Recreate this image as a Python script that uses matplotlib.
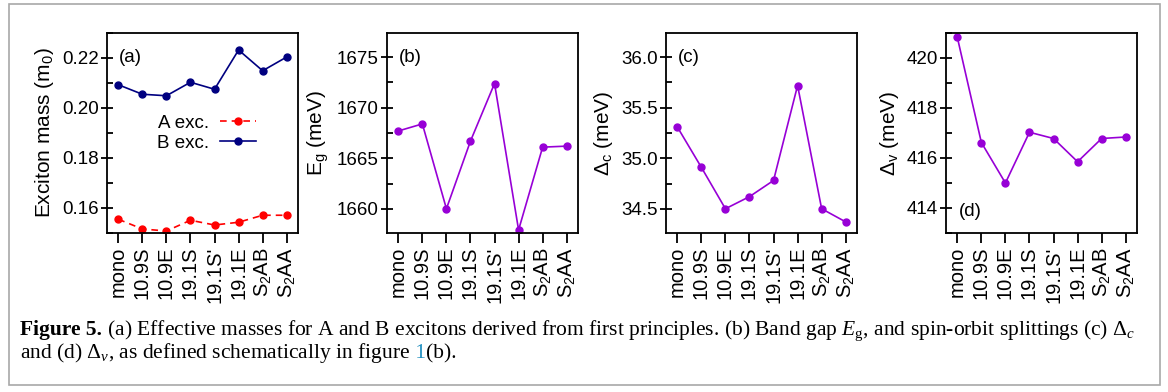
import numpy as np
import matplotlib
matplotlib.use("Agg")
import matplotlib.pyplot as plt
from matplotlib.patches import Rectangle
from matplotlib.ticker import MultipleLocator, FormatStrFormatter

plt.rcParams['font.family'] = ['Liberation Sans', 'DejaVu Sans']
plt.rcParams['mathtext.fontset'] = 'custom'
plt.rcParams['mathtext.rm'] = 'Liberation Serif'
plt.rcParams['mathtext.it'] = 'Liberation Serif:italic'
plt.rcParams['mathtext.bf'] = 'Liberation Serif:bold'
plt.rcParams['mathtext.sf'] = 'Liberation Sans'

structures = ["mono", "10.9S", "10.9E", "19.1S", "19.1S'", "19.1E",
              "S$_\\mathsf{2}$AB", "S$_\\mathsf{2}$AA"]

mass_A = [0.1555, 0.1516, 0.1508, 0.1551, 0.1532, 0.1543, 0.1571, 0.1571]
mass_B = [0.2093, 0.2055, 0.2049, 0.2103, 0.2075, 0.2232, 0.2149, 0.2204]
band_gap = [1667.7, 1668.4, 1660.0, 1666.7, 1672.4, 1657.9, 1666.1, 1666.2]
delta_c = [35.31, 34.91, 34.50, 34.62, 34.78, 35.72, 34.50, 34.37]
delta_v = [420.83, 416.62, 415.00, 417.03, 416.78, 415.85, 416.78, 416.84]

PURPLE = '#9700d6'
YTICK_FS = 13.5
XTICK_FS = 14.5
LABEL_FS = 15
TEXT_FS = 13.5
MS = 5

fig = plt.figure(figsize=(11.68, 3.92), dpi=100)
W, H = 1168, 392

# grey frame around the figure + caption
fig.patches.append(Rectangle((9 / W, 7 / H), 1151 / W, 381 / H, transform=fig.transFigure,
                             fill=False, edgecolor='#a8a8a8', linewidth=1.2))


def make_axes(left_px):
    ax = fig.add_axes([left_px / W, (H - 233) / H, 191 / W, 200 / H])
    ax.set_xlim(-0.47, 7.47)
    x = np.arange(len(structures))
    ax.set_xticks(x)
    ax.set_xticklabels(structures, rotation=90, fontsize=XTICK_FS)
    ax.tick_params(axis='x', direction='out', length=7, width=1.3, pad=3)
    ax.tick_params(axis='y', which='major', direction='inout', length=8, width=1.3,
                   labelsize=YTICK_FS, pad=2)
    ax.tick_params(axis='y', which='minor', direction='in', length=4, width=1.3)
    for s in ax.spines.values():
        s.set_linewidth(1.3)
    return ax, x


# (a) exciton masses
ax, x = make_axes(107)
ax.plot(x, mass_A, color='red', ls=(0, (4, 3)), lw=1.2, marker='o', ms=MS, label='A exc.')
ax.plot(x, mass_B, color='navy', ls='-', lw=1.2, marker='o', ms=MS, label='B exc.')
ax.set_ylim(0.15, 0.23)
ax.yaxis.set_major_locator(MultipleLocator(0.02))
ax.yaxis.set_minor_locator(MultipleLocator(0.01))
ax.yaxis.set_major_formatter(FormatStrFormatter('%.2f'))
ax.set_ylabel("Exciton mass (m$_\\mathsf{0}$)", fontsize=LABEL_FS)
ax.text(0.06, 0.88, "(a)", transform=ax.transAxes, fontsize=TEXT_FS, va='center')
ax.legend(loc='center', bbox_to_anchor=(0.52, 0.5), frameon=False, markerfirst=False,
          fontsize=TEXT_FS, handlelength=1.9, handletextpad=0.6, labelspacing=0.15)

# (b) band gap
ax, x = make_axes(387)
ax.plot(x, band_gap, color=PURPLE, lw=1.2, marker='o', ms=MS)
ax.set_ylim(1657.6, 1677.4)
ax.yaxis.set_major_locator(MultipleLocator(5))
ax.yaxis.set_minor_locator(MultipleLocator(2.5))
ax.set_ylabel("E$_\\mathsf{g}$ (meV)", fontsize=LABEL_FS)
ax.text(0.06, 0.88, "(b)", transform=ax.transAxes, fontsize=TEXT_FS, va='center')

# (c) conduction band splitting
ax, x = make_axes(666)
ax.plot(x, delta_c, color=PURPLE, lw=1.2, marker='o', ms=MS)
ax.set_ylim(34.26, 36.24)
ax.yaxis.set_major_locator(MultipleLocator(0.5))
ax.yaxis.set_minor_locator(MultipleLocator(0.25))
ax.yaxis.set_major_formatter(FormatStrFormatter('%.1f'))
ax.set_ylabel("$\\mathsf{\\Delta}_\\mathsf{c}$ (meV)", fontsize=LABEL_FS)
ax.text(0.06, 0.88, "(c)", transform=ax.transAxes, fontsize=TEXT_FS, va='center')

# (d) valence band splitting
ax, x = make_axes(946)
ax.plot(x, delta_v, color=PURPLE, lw=1.2, marker='o', ms=MS)
ax.set_ylim(413.0, 421.0)
ax.yaxis.set_major_locator(MultipleLocator(2))
ax.yaxis.set_minor_locator(MultipleLocator(1))
ax.set_ylabel("$\\mathsf{\\Delta}_\\mathsf{v}$ (meV)", fontsize=LABEL_FS)
ax.text(0.065, 0.11, "(d)", transform=ax.transAxes, fontsize=TEXT_FS, va='center')

# caption, drawn piece by piece so the bold / coloured parts line up
renderer = fig.canvas.get_renderer()
CAP_FS = 15.5


def caption_line(pieces, x_px, base_px):
    xf = x_px / W
    for txt, kw in pieces:
        t = fig.text(xf, (H - base_px) / H, txt, fontsize=CAP_FS, va='baseline',
                     family='Liberation Serif', **kw)
        xf += t.get_window_extent(renderer).width / W


caption_line([("Figure 5.", dict(weight='bold')),
              (" (a) Effective masses for A and B excitons derived from first principles. "
               "(b) Band gap $E_\\mathrm{g}$, and spin-orbit splittings (c) $\\Delta_c$", {})],
             20, 335)
caption_line([("and (d) $\\Delta_v$, as defined schematically in figure", {}),
              (" 1", dict(color='#1f8fc0')),
              ("(b).", {})],
             20, 358)

fig.savefig("out.png", dpi=100)
